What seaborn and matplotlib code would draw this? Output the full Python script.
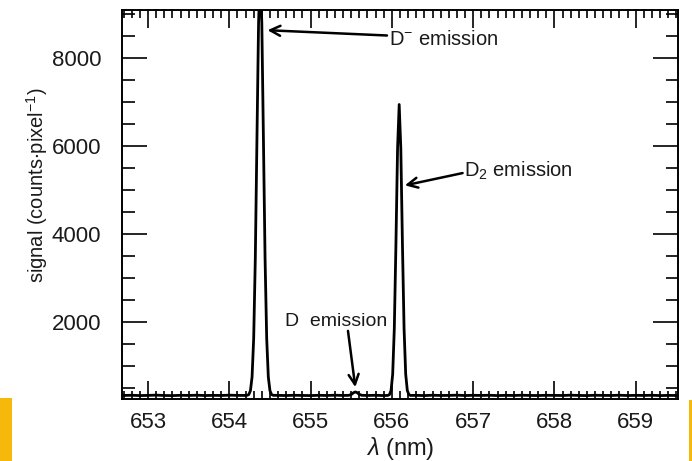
import matplotlib
matplotlib.use("Agg")
import matplotlib.pyplot as plt
from matplotlib.patches import Rectangle
from matplotlib.ticker import MultipleLocator
import seaborn as sns
import pandas as pd

# Emission spectrum (wavelength in nm, signal in counts per pixel)
wavelength_nm = [
    652.68, 652.80, 652.90, 653.00, 653.10, 653.20, 653.30, 653.40, 653.50,
    653.60, 653.70, 653.80, 653.90, 654.00, 654.10, 654.18,
    654.22, 654.24, 654.26, 654.28, 654.30, 654.32, 654.34, 654.36, 654.38,
    654.40, 654.42, 654.44, 654.46, 654.48, 654.50, 654.52, 654.54,
    654.60, 654.70, 654.80, 654.90, 655.00, 655.10, 655.20, 655.30, 655.40,
    655.47, 655.50, 655.53, 655.55, 655.57, 655.60, 655.63,
    655.70, 655.80, 655.88,
    655.95, 655.97, 655.99, 656.01, 656.03, 656.05, 656.07, 656.09,
    656.11, 656.13, 656.15, 656.17, 656.19, 656.21, 656.23,
    656.30, 656.40, 656.50, 656.60, 656.70, 656.80, 656.90, 657.00, 657.10,
    657.20, 657.30, 657.40, 657.50, 657.60, 657.70, 657.80, 657.90, 658.00,
    658.10, 658.20, 658.30, 658.40, 658.50, 658.60, 658.70, 658.80, 658.90,
    659.00, 659.10, 659.20, 659.30, 659.40, 659.52,
]
signal_counts = [
    330, 335, 328, 332, 338, 330, 327, 334, 331,
    336, 329, 333, 330, 337, 332, 331,
    334, 351, 440, 750, 1630, 3450, 6150, 8800, 9930,
    8800, 6150, 3450, 1630, 750, 440, 351, 334,
    332, 329, 335, 331, 328, 334, 330, 336, 331,
    333, 352, 395, 410, 398, 356, 334,
    330, 335, 329,
    331, 349, 442, 815, 1855, 3775, 5950, 6950,
    5950, 3775, 1855, 815, 442, 349, 331,
    333, 328, 336, 330, 332, 337, 329, 334, 331,
    335, 328, 333, 330, 336, 331, 329, 334, 332,
    330, 337, 331, 328, 335, 332, 330, 336, 329,
    333, 331, 335, 328, 332, 330,
]

x_ticks = [653, 654, 655, 656, 657, 658, 659]
y_ticks = [2000, 4000, 6000, 8000]

spectrum = pd.DataFrame({"wavelength": wavelength_nm, "signal": signal_counts})

sns.set_theme(style="ticks")
plt.rcParams["font.family"] = ["Liberation Sans", "DejaVu Sans"]
plt.rcParams["mathtext.fontset"] = "custom"
plt.rcParams["mathtext.rm"] = "Liberation Sans"
plt.rcParams["mathtext.it"] = "Liberation Sans:italic"
plt.rcParams["mathtext.default"] = "regular"

ink = "#1a1a1a"

fig = plt.figure(figsize=(6.92, 4.61), dpi=100)
ax = fig.add_axes([122 / 692, 62 / 461, 556 / 692, 389 / 461])

sns.lineplot(data=spectrum, x="wavelength", y="signal", ax=ax,
             color="black", linewidth=2.0, sort=False)

ax.set_xlim(652.68, 659.52)
ax.set_ylim(250, 9100)
ax.set_xticks(x_ticks)
ax.set_xticklabels([str(t) for t in x_ticks])
ax.set_yticks(y_ticks)
ax.set_yticklabels([str(t) for t in y_ticks])
ax.xaxis.set_minor_locator(MultipleLocator(0.1))
ax.yaxis.set_minor_locator(MultipleLocator(500))

for side in ax.spines.values():
    side.set_linewidth(1.4)
    side.set_color("black")

ax.tick_params(axis="both", which="both", direction="in", top=True, right=True,
               color="black", width=1.2, labelsize=16, labelcolor=ink)
ax.tick_params(axis="x", which="major", length=13, pad=9)
ax.tick_params(axis="x", which="minor", length=6)
ax.tick_params(axis="y", which="major", length=18, pad=15)
ax.tick_params(axis="y", which="minor", length=9)

ax.set_xlabel(r"$\mathit{\lambda}$ (nm)", fontsize=17, color=ink)
ax.xaxis.set_label_coords(0.5, -0.093)
ax.set_ylabel(r"signal (counts$\cdot$pixel$^{-1}$)", fontsize=14.5, color=ink)
ax.yaxis.set_label_coords(-0.13, 0.55)

arrow = dict(arrowstyle="->", color="black", lw=1.8, mutation_scale=18,
             shrinkA=0, shrinkB=0)

ax.annotate("", xy=(654.47, 8640), xytext=(655.94, 8520), arrowprops=arrow)
ax.text(655.97, 8420, r"D$^{-}$ emission", fontsize=14.5, va="center", ha="left",
        color=ink)

ax.annotate("", xy=(656.16, 5110), xytext=(656.87, 5390), arrowprops=arrow)
ax.text(656.89, 5430, r"D$_2$ emission", fontsize=14.5, va="center", ha="left",
        color=ink)

ax.annotate("", xy=(655.55, 520), xytext=(655.46, 1800), arrowprops=arrow)
ax.text(655.31, 2020, "D  emission", fontsize=14, va="center", ha="center",
        color=ink)

# gold side strips along the lower edge
fig.add_artist(Rectangle((0, 0), 12 / 692, 63 / 461, transform=fig.transFigure,
                         color="#F6B80A", lw=0))
fig.add_artist(Rectangle((689 / 692, 0), 3 / 692, 61 / 461,
                         transform=fig.transFigure, color="#F6B80A", lw=0))

fig.savefig("out.png", dpi=100)
